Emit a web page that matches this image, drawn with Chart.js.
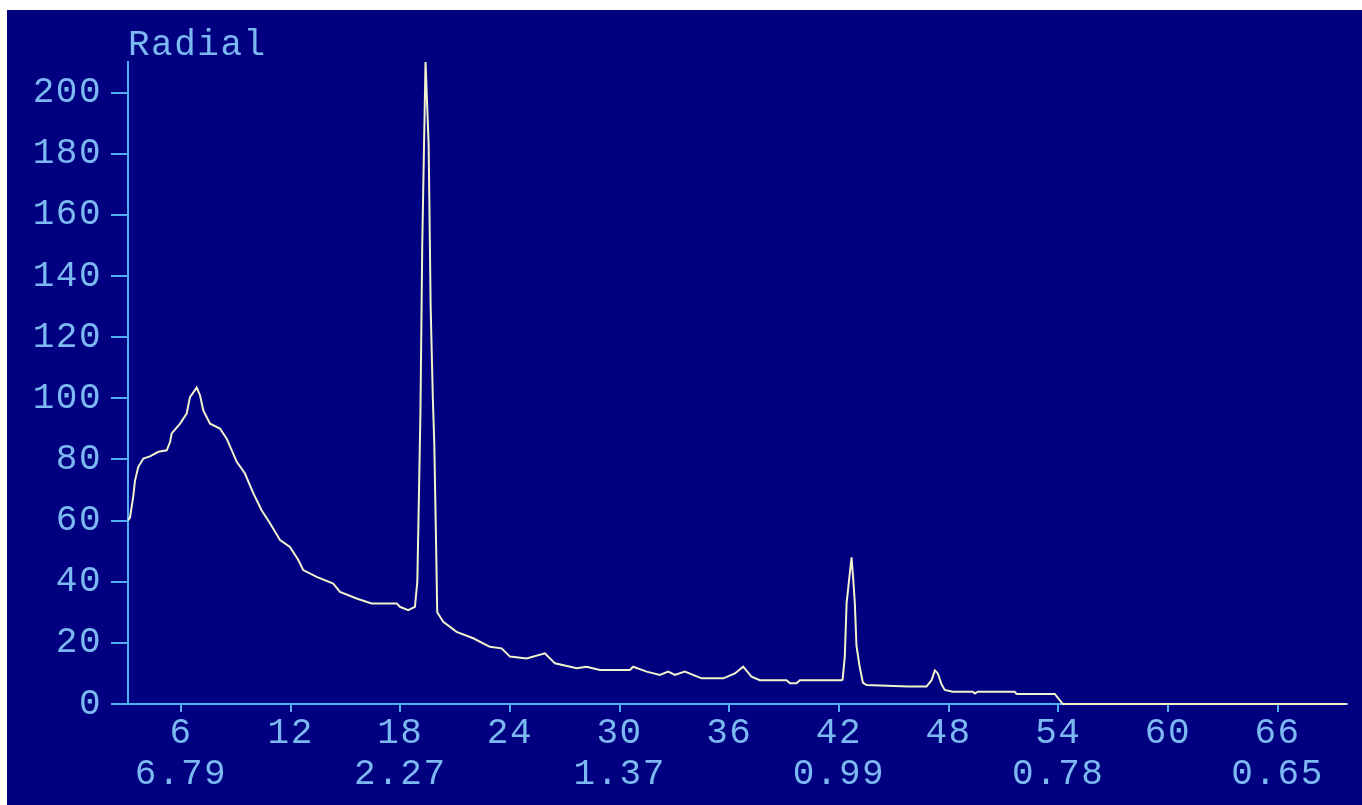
<!DOCTYPE html>
<html>
<head>
<meta charset="utf-8">
<title>Radial</title>
<script src="https://cdn.jsdelivr.net/npm/chart.js@4/dist/chart.umd.min.js"></script>
<style>
  html, body { margin: 0; padding: 0; background: #fff; }
  #plot {
    position: absolute;
    left: 7px; top: 10px;
    width: 1355px; height: 795px;
    background: #000080;
  }
</style>
</head>
<body>
<div id="plot"><canvas id="chart"></canvas></div>
<script>
// ─── Data ────────────────────────────────────────────────────────────────────

const twoTheta = [
  3.10, 3.21, 3.39, 3.48, 3.66, 3.94, 4.30, 4.76, 5.22, 5.40, 5.49, 5.95, 6.31, 6.49, 6.86,
  7.04, 7.22, 7.59, 8.13, 8.50, 9.05, 9.50, 9.96, 10.41, 10.87, 11.42, 11.96, 12.42, 12.69,
  13.42, 14.33, 14.70, 15.61, 16.43, 17.80, 17.98, 18.43, 18.80, 18.93, 19.00, 19.10, 19.20,
  19.38, 19.55, 19.66, 19.78, 19.86, 19.95, 20.02, 20.35, 21.08, 21.99, 22.90, 23.54, 24.00,
  24.91, 25.91, 26.46, 27.65, 28.19, 28.92, 30.56, 30.74, 31.48, 32.20, 32.66, 33.02, 33.57,
  34.48, 35.67, 36.31, 36.76, 37.22, 37.67, 39.13, 39.32, 39.68, 39.86, 42.14, 42.20, 42.32,
  42.42, 42.69, 42.78, 42.87, 42.96, 43.14, 43.31, 43.51, 45.77, 46.79, 47.07, 47.25, 47.41,
  47.61, 47.79, 48.23, 49.33, 49.44, 49.60, 51.62, 51.72, 53.81, 54.25, 69.77
];
const intensity = [
  60, 61, 68, 73, 77.5, 80.3, 81, 82.5, 83, 85.7, 88.5, 91.7, 95, 100.4, 103.5,
  101, 96, 91.7, 90.1, 86.8, 79.2, 75.4, 68.9, 63.4, 59.1, 53.6, 51.4, 47.1, 43.8,
  41.6, 39.4, 36.7, 34.5, 32.9, 32.9, 31.8, 30.7, 31.8, 40, 62, 95, 150,
  210, 183, 130, 100, 85, 55, 30, 26.9, 23.6, 21.5, 18.7, 18.2, 15.5,
  14.9, 16.6, 13.3, 11.7, 12.2, 11.1, 11.1, 12.2, 10.6, 9.5, 10.6, 9.5, 10.6,
  8.4, 8.4, 10.0, 12.2, 8.9, 7.8, 7.8, 6.8, 6.8, 7.8, 7.8, 8, 15.5,
  33, 48, 41, 33, 19, 12, 7, 6.2, 5.7, 5.7, 7.8, 11, 10,
  6.5, 4.6, 4, 4, 3.4, 4, 4, 3.3, 3.3, 0, 0
];

const xTicks = [6, 12, 18, 24, 30, 36, 42, 48, 54, 60, 66];
const dSpacing = ['6.79', '', '2.27', '', '1.37', '', '0.99', '', '0.78', '', '0.65'];
const yTicks = [0, 20, 40, 60, 80, 100, 120, 140, 160, 180, 200];

// ─── Style ───────────────────────────────────────────────────────────────────

const AXIS = '#52aef4';
const TEXT = '#7cb8f2';
const TRACE = '#f2f2cc';
const FONT = "'Liberation Mono', 'DejaVu Sans Mono', monospace";

Chart.defaults.font.family = FONT;
Chart.defaults.font.size = 36;
Chart.defaults.color = TEXT;
Chart.defaults.animation = false;

// wider glyph spacing, the scan uses a broad terminal font
const wideText = {
  id: 'wideText',
  beforeDraw(chart) { chart.ctx.letterSpacing = '1.5px'; }
};

const radialLabel = {
  id: 'radialLabel',
  afterDraw(chart) {
    const { ctx, chartArea } = chart;
    ctx.save();
    ctx.font = '36px ' + FONT;
    ctx.fillStyle = TEXT;
    ctx.textAlign = 'left';
    ctx.textBaseline = 'alphabetic';
    ctx.fillText('Radial', chartArea.left, 45);
    ctx.restore();
  }
};

new Chart(document.getElementById('chart'), {
  type: 'line',
  data: {
    datasets: [{
      label: 'Radial',
      data: twoTheta.map((x, i) => ({ x, y: intensity[i] })),
      borderColor: TRACE,
      borderWidth: 2,
      pointRadius: 0,
      tension: 0,
      clip: false,
    }]
  },
  options: {
    responsive: true,
    maintainAspectRatio: false,
    layout: { padding: { top: 52, right: 15, left: 0, bottom: 0 } },
    plugins: { legend: { display: false }, tooltip: { enabled: false } },
    scales: {
      x: {
        type: 'linear',
        min: 3.1,
        max: 69.8,
        afterBuildTicks: s => { s.ticks = xTicks.map(v => ({ value: v })); },
        afterFit: s => { s.height = 101; },
        border: { display: true, color: AXIS, width: 2 },
        grid: { drawOnChartArea: false, drawTicks: true, tickLength: 8, color: AXIS, lineWidth: 2 },
        ticks: {
          padding: 1,
          maxRotation: 0,
          autoSkip: false,
          font: { size: 36, lineHeight: 1.14 },
          callback: (v) => {
            const i = xTicks.indexOf(v);
            return [String(v), dSpacing[i] || ''];
          }
        }
      },
      y: {
        min: 0,
        max: 210,
        afterBuildTicks: s => { s.ticks = yTicks.map(v => ({ value: v })); },
        afterFit: s => { s.width = 121; },
        border: { display: true, color: AXIS, width: 2 },
        grid: { drawOnChartArea: false, drawTicks: true, tickLength: 17, color: AXIS, lineWidth: 2 },
        ticks: { padding: 9, font: { size: 36 } }
      }
    }
  },
  plugins: [wideText, radialLabel]
});
</script>
</body>
</html>
